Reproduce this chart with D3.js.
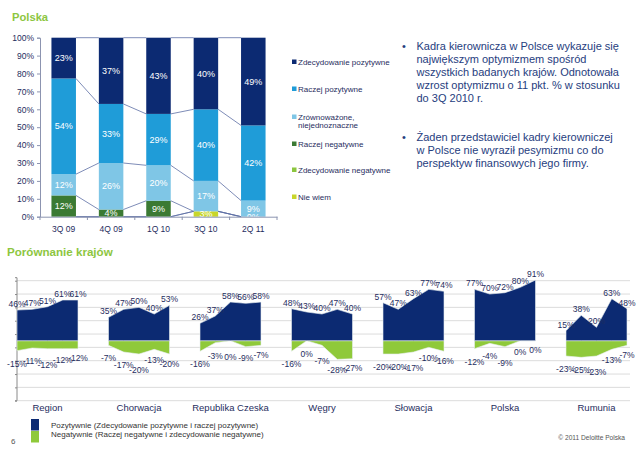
<!DOCTYPE html>
<html>
<head>
<meta charset="utf-8">
<script src="https://cdn.jsdelivr.net/npm/d3@7"></script>
<style>
  html, body { margin: 0; padding: 0; background: #fff; }
  svg { display: block; font-family: "Liberation Sans", Arial, sans-serif; }
</style>
</head>
<body>
<svg id="chart" width="640" height="463"></svg>
<script>
// ---------- DATA: top chart (Polska) ----------
const quarters = ["3Q 09", "4Q 09", "1Q 10", "3Q 10", "2Q 11"];
const zdecPoz = [23, 37, 43, 40, 49];
const raczPoz = [54, 33, 29, 40, 42];
const zrown   = [12, 26, 20, 17, 9];
const raczNeg = [12, 4, 9, null, 0];
const zdecNeg = [null, null, null, null, null];
const nieWiem = [null, null, null, 3, null];
const seriesNames = ["Zdecydowanie pozytywne", "Raczej pozytywne", "Zrównoważone,\nniejednoznaczne",
                     "Raczej negatywne", "Zdecydowanie negatywne", "Nie wiem"];
const yTicksTop = [0, 0.1, 0.2, 0.3, 0.4, 0.5, 0.6, 0.7, 0.8, 0.9, 1.0];

// ---------- DATA: bottom chart (Porównanie krajów) ----------
const countries = ["Region", "Chorwacja", "Republika Czeska", "Węgry", "Słowacja", "Polska", "Rumunia"];
const positive = [
  [46, 47, 51, 61, 61],
  [35, 47, 50, 40, 53],
  [26, 37, 58, 56, 58],
  [48, 43, 40, 47, 40],
  [57, 47, 63, 77, 74],
  [77, 70, 72, 80, 91],
  [15, 38, 20, 63, 48]
];
const negative = [
  [-15, -11, -12, -12, -12],
  [-7, -17, -20, -13, -20],
  [-16, -3, 0, -9, -7],
  [-16, 0, -7, -28, -27],
  [-20, -20, -17, -10, -16],
  [-12, -4, -9, 0, 0],
  [-23, -25, -23, -13, -7]
];
const bottomTicks = [-90, -70, -50, -30, -10, 10, 30, 50, 70, 90];
const legendBottom = ["Pozytywnie (Zdecydowanie pozytywne i raczej pozytywne)",
                      "Negatywnie (Raczej negatywne i zdecydowanie negatywne)"];

// ---------- STYLE ----------
const GREEN_TITLE = "#8dc63f";
const TEXT_NAVY = "#1f2d5e";
const topColors = {
  zdecPoz: "#0c2a72",
  raczPoz: "#1f9cd8",
  zrown: "#7fc6e6",
  raczNeg: "#3b7a33",
  zdecNeg: "#8cc63f",
  nieWiem: "#c8d62a"
};
const posColor = "#0c2a72";
const negColor = "#8fc93a";
const NEG_LABEL_OFFSET = [13, 13, 16, 11, 9.5]; // px below point, by position within group
const POS_LABEL_OFFSET = 6;

const svg = d3.select("#chart");
svg.append("rect").attr("width", 640).attr("height", 463).attr("fill", "#fff");

// Titles
svg.append("text").attr("x", 12).attr("y", 21).text("Polska")
  .attr("font-size", 11.2).attr("font-weight", "bold").attr("fill", GREEN_TITLE);
svg.append("text").attr("x", 7).attr("y", 256).text("Porównanie krajów")
  .attr("font-size", 11.6).attr("font-weight", "bold").attr("fill", GREEN_TITLE);

// ---------- TOP CHART ----------
const keys = ["nieWiem", "zdecNeg", "raczNeg", "zrown", "raczPoz", "zdecPoz"];
const rawByKey = { zdecPoz, raczPoz, zrown, raczNeg, zdecNeg, nieWiem };
const rows = quarters.map((q, i) => {
  const r = { q };
  keys.forEach(k => r[k] = rawByKey[k][i] == null ? 0 : rawByKey[k][i]);
  return r;
});
const stack = d3.stack().keys(keys).offset(d3.stackOffsetExpand);
const stacked = stack(rows);

const xTop = d3.scaleBand().domain(quarters).range([40, 277]).paddingInner(0.483).paddingOuter(0.2415);
const yTop = d3.scaleLinear().domain([0, 1]).range([216.7, 37.7]);

const gTop = svg.append("g");

// bars
stacked.forEach(s => {
  gTop.append("g").selectAll("rect").data(s).join("rect")
    .attr("x", (d, i) => xTop(quarters[i]))
    .attr("width", xTop.bandwidth())
    .attr("y", d => yTop(d[1]))
    .attr("height", d => Math.max(0, yTop(d[0]) - yTop(d[1])))
    .attr("fill", topColors[s.key]);
});

// series lines
stacked.forEach(s => {
  for (let i = 0; i < quarters.length - 1; i++) {
    gTop.append("line")
      .attr("x1", xTop(quarters[i]) + xTop.bandwidth())
      .attr("x2", xTop(quarters[i + 1]))
      .attr("y1", yTop(s[i][1]))
      .attr("y2", yTop(s[i + 1][1]))
      .attr("stroke", "#5d6fa5").attr("stroke-width", 0.8);
  }
});

// labels
stacked.forEach(s => {
  s.forEach((d, i) => {
    const v = rawByKey[s.key][i];
    if (v == null) return;
    gTop.append("text")
      .attr("x", xTop(quarters[i]) + xTop.bandwidth() / 2)
      .attr("y", (yTop(d[0]) + yTop(d[1])) / 2)
      .attr("dy", "0.35em")
      .attr("text-anchor", "middle")
      .attr("font-size", 9)
      .attr("fill", "#fff")
      .text(v + "%");
  });
});

// axes
const yAxisTop = d3.axisLeft(yTop).tickValues(yTicksTop).tickFormat(d3.format(".0%")).tickSize(3).tickPadding(3);
const gy = gTop.append("g").attr("transform", "translate(40,0)").call(yAxisTop);
gy.select(".domain").attr("stroke", "#8c94b0");
gy.selectAll(".tick line").attr("stroke", "#8c94b0");
gy.selectAll(".tick text").attr("font-size", 8.5).attr("fill", TEXT_NAVY).attr("font-family", "Liberation Sans, Arial, sans-serif");

const xAxisTop = d3.axisBottom(xTop).tickSize(0).tickPadding(9);
const gx = gTop.append("g").attr("transform", "translate(0,216.7)").call(xAxisTop);
gx.select(".domain").attr("stroke", "#8c94b0");
gx.selectAll(".tick text").attr("font-size", 8.5).attr("fill", TEXT_NAVY).attr("font-family", "Liberation Sans, Arial, sans-serif");
for (let i = 0; i <= quarters.length; i++) {
  const xx = xTop.range()[0] + i * xTop.step();
  gTop.append("line").attr("x1", xx).attr("x2", xx).attr("y1", 216.7).attr("y2", 220)
    .attr("stroke", "#8c94b0");
}

// top legend
const legendKeys = ["zdecPoz", "raczPoz", "zrown", "raczNeg", "zdecNeg", "nieWiem"];
const legendY = [62, 89, 117, 144, 170, 197];
legendKeys.forEach((k, i) => {
  const g = svg.append("g");
  g.append("rect").attr("x", 292).attr("y", legendY[i] - 2.5).attr("width", 4.5).attr("height", 4.5)
    .attr("fill", topColors[k]);
  const lines = seriesNames[i].split("\n");
  lines.forEach((ln, j) => {
    g.append("text").attr("x", 298).attr("y", legendY[i] + j * 8.5).attr("dy", "0.35em")
      .attr("font-size", 8).attr("fill", TEXT_NAVY).text(ln);
  });
});

// bullet text
const bullet1 = ["Kadra kierownicza w Polsce wykazuje się", "największym optymizmem spośród",
  "wszystkich badanych krajów. Odnotowała", "wzrost optymizmu o 11 pkt. % w stosunku", "do 3Q 2010 r."];
const bullet2 = ["Żaden przedstawiciel kadry kierowniczej", "w Polsce nie wyraził pesymizmu co do",
  "perspektyw finansowych jego firmy."];
const BULLET_COLOR = "#263d7e";
[[bullet1, 49.5], [bullet2, 141]].forEach(([lines, y0]) => {
  svg.append("text").attr("x", 402).attr("y", y0).attr("font-size", 11).attr("fill", BULLET_COLOR).text("•");
  lines.forEach((ln, j) => {
    svg.append("text").attr("x", 416.5).attr("y", y0 + j * 13.2).attr("font-size", 11)
      .attr("fill", BULLET_COLOR).text(ln);
  });
});

// ---------- BOTTOM CHART ----------
const nIdx = countries.length * 6 - 2; // last index 40
const xB = d3.scaleLinear().domain([0, nIdx]).range([17, 627]);
const yB = d3.scaleLinear().domain([-90, 90]).range([400.7, 280.7]);
const gB = svg.append("g");

// gridlines
gB.selectAll("line.grid").data(bottomTicks).join("line")
  .attr("x1", 17).attr("x2", 630)
  .attr("y1", d => yB(d)).attr("y2", d => yB(d))
  .attr("stroke", "#dcdcdc").attr("stroke-width", 1);

// axis
const yAxisB = d3.axisLeft(yB).tickValues(bottomTicks).tickSize(2).tickFormat("");
const gyB = gB.append("g").attr("transform", "translate(17,0)").call(yAxisB);
gyB.select(".domain").attr("stroke", "#8a8a8a").attr("d", `M-2,${yB(90) - 3}H0V${yB(-90)}H-2`);
gyB.selectAll(".tick line").attr("stroke", "#8a8a8a");

const areaGen = d3.area().x(d => xB(d.i)).y0(yB(0)).y1(d => yB(d.v));

countries.forEach((c, g) => {
  const pos = positive[g].map((v, j) => ({ i: g * 6 + j, j, v }));
  const neg = negative[g].map((v, j) => ({ i: g * 6 + j, j, v }));
  gB.append("path").datum(neg).attr("d", areaGen).attr("fill", negColor)
    .attr("stroke", "#e8eef0").attr("stroke-width", 0.6);
  gB.append("path").datum(pos).attr("d", areaGen).attr("fill", posColor)
    .attr("stroke", "#e8eef0").attr("stroke-width", 0.6);

  pos.forEach(d => {
    gB.append("text").attr("x", xB(d.i)).attr("y", yB(d.v) - POS_LABEL_OFFSET).attr("dy", "0.35em")
      .attr("text-anchor", "middle").attr("font-size", 8.5).attr("fill", TEXT_NAVY)
      .text(d.v + "%");
  });
  neg.forEach(d => {
    gB.append("text").attr("x", xB(d.i)).attr("y", yB(d.v) + NEG_LABEL_OFFSET[d.j]).attr("dy", "0.35em")
      .attr("text-anchor", "middle").attr("font-size", 8.5).attr("fill", TEXT_NAVY)
      .text(d.v + "%");
  });

  svg.append("text").attr("x", xB(g * 6 + 2)).attr("y", 411)
    .attr("text-anchor", "middle").attr("font-size", 9.5).attr("fill", TEXT_NAVY).text(c);
});

// bottom legend
svg.append("rect").attr("x", 31).attr("y", 419).attr("width", 8).attr("height", 11.5).attr("fill", posColor);
svg.append("rect").attr("x", 31).attr("y", 431).attr("width", 8).attr("height", 11.5).attr("fill", negColor);
legendBottom.forEach((t, i) => {
  svg.append("text").attr("x", 51).attr("y", 425.5 + i * 9).attr("dy", "0.35em")
    .attr("font-size", 8).attr("fill", "#333").text(t);
});
svg.append("text").attr("x", 11).attr("y", 441.5).attr("dy", "0.35em").attr("font-size", 8).attr("fill", "#555").text("6");
svg.append("text").attr("x", 625).attr("y", 437.5).attr("dy", "0.35em").attr("text-anchor", "end")
  .attr("font-size", 6.6).attr("fill", "#555").text("© 2011 Deloitte Polska");
</script>
</body>
</html>
